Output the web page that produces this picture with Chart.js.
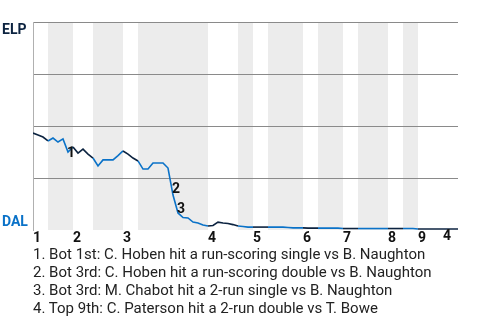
<!DOCTYPE html>
<html>
<head>
<meta charset="utf-8">
<script src="https://cdn.jsdelivr.net/npm/chart.js@4.4.1/dist/chart.umd.min.js"></script>
<style>
  body { margin: 0; background: #fff; }
  #wrap { position: relative; width: 480px; height: 320px; }
  .notes { position: absolute; left: 0; top: 245px; padding-left: 33px; font: 15px Roboto, sans-serif; line-height: 18px; color: #222; white-space: nowrap; }
</style>
</head>
<body>
<div id="wrap">
  <canvas id="myChart" width="480" height="320"></canvas>
  <div class="notes" id="notes"></div>
</div>
<script>
// innings and where each half starts (plate appearance index)
var innings = ["1", "2", "3", "4", "5", "6", "7", "8", "9"];
var topStarts = [0, 8, 18, 35, 44, 54, 62, 71, 77];
var botStarts = [3, 12, 21, 41, 47, 57, 65, 74, null];
var lastPA = 85;

// ELP win probability after each plate appearance
var elpProb = [
  0.466, 0.457, 0.447, 0.428, 0.442, 0.423, 0.438, 0.375, 0.399, 0.370,
  0.389, 0.365, 0.346, 0.308, 0.337, 0.337, 0.337, 0.358, 0.380, 0.365,
  0.346, 0.332, 0.293, 0.293, 0.322, 0.322, 0.322, 0.298, 0.168, 0.082,
  0.060, 0.058, 0.038, 0.034, 0.024, 0.019, 0.022, 0.038, 0.034, 0.031,
  0.026, 0.019, 0.017, 0.014, 0.014, 0.014, 0.014, 0.014, 0.014, 0.014,
  0.014, 0.012, 0.010, 0.010, 0.010, 0.009, 0.009, 0.009, 0.009, 0.009,
  0.009, 0.009, 0.007, 0.007, 0.007, 0.007, 0.007, 0.007, 0.007, 0.007,
  0.007, 0.007, 0.007, 0.007, 0.007, 0.007, 0.007, 0.005, 0.005, 0.005,
  0.005, 0.005, 0.005, 0.005, 0.005, 0.005
];

// key plays
var eventPA = [7, 28, 29, 83];
var eventText = [
  "Bot 1st: C. Hoben hit a run-scoring single vs B. Naughton",
  "Bot 3rd: C. Hoben hit a run-scoring double vs B. Naughton",
  "Bot 3rd: M. Chabot hit a 2-run single vs B. Naughton",
  "Top 9th: C. Paterson hit a 2-run double vs T. Bowe"
];

var NAVY = "#0c2340";
var BLUE = "#0a72c8";
var BAND = "#ececec";
// label nudges in px (dx, dy to the baseline)
var eventNudge = [[3, 5], [3, -2], [3, 0], [-1, 11]];

function isBottomHalf(x) {
  for (var i = 0; i < innings.length; i++) {
    var b = botStarts[i];
    if (b === null) continue;
    var end = i + 1 < topStarts.length ? topStarts[i + 1] : lastPA;
    if (x > b && x < end) return true;
  }
  return false;
}

// shade the bottom half of each inning
var bandsPlugin = {
  id: "bands",
  beforeDraw: function(chart) {
    var ctx = chart.ctx, area = chart.chartArea, xs = chart.scales.x;
    ctx.save();
    ctx.fillStyle = BAND;
    for (var i = 0; i < innings.length; i++) {
      if (botStarts[i] === null) continue;
      var end = i + 1 < topStarts.length ? topStarts[i + 1] : lastPA;
      var x0 = xs.getPixelForValue(botStarts[i]);
      var x1 = xs.getPixelForValue(end);
      ctx.fillRect(x0, area.top, x1 - x0, area.bottom - area.top);
    }
    ctx.restore();
  }
};

// team names and play numbers
var labelsPlugin = {
  id: "labels",
  afterDatasetsDraw: function(chart) {
    var ctx = chart.ctx, area = chart.chartArea;
    var xs = chart.scales.x, ys = chart.scales.y;
    ctx.save();
    ctx.font = "bold 14px Roboto, sans-serif";
    ctx.textBaseline = "alphabetic";
    ctx.textAlign = "left";
    ctx.fillStyle = NAVY;
    ctx.fillText("ELP", 2, area.top + 12);
    ctx.fillStyle = BLUE;
    ctx.fillText("DAL", 2, area.bottom - 4);

    ctx.textAlign = "center";
    ctx.fillStyle = "#111";
    for (var i = 0; i < eventPA.length; i++) {
      var px = xs.getPixelForValue(eventPA[i]);
      var py = ys.getPixelForValue(elpProb[eventPA[i]]);
      ctx.fillText(String(i + 1), px + eventNudge[i][0], py + eventNudge[i][1]);
    }
    ctx.restore();
  }
};

var points = [];
for (var i = 0; i < elpProb.length; i++) {
  points.push({ x: i, y: elpProb[i] });
}

var data = {
  datasets: [{
    data: points,
    borderWidth: 1.6,
    pointRadius: 0,
    tension: 0,
    borderColor: NAVY,
    segment: {
      borderColor: function(c) {
        var mid = (c.p0.parsed.x + c.p1.parsed.x) / 2;
        return isBottomHalf(mid) ? BLUE : NAVY;
      }
    }
  }]
};

var options = {
  responsive: false,
  animation: false,
  layout: { padding: { left: 33, right: 22, top: 22, bottom: 70 } },
  plugins: { legend: { display: false }, tooltip: { enabled: false } },
  scales: {
    x: {
      type: "linear",
      min: 0,
      max: lastPA,
      grid: { display: false },
      border: { display: false },
      afterBuildTicks: function(axis) {
        axis.ticks = topStarts.map(function(v) { return { value: v }; });
      },
      afterFit: function(s) { s.height = 20; },
      ticks: {
        autoSkip: false,
        maxRotation: 0,
        align: "start",
        padding: -8,
        color: "#111",
        font: { family: "Roboto", size: 14, weight: "bold" },
        callback: function(v, idx) { return innings[idx]; }
      }
    },
    y: {
      min: 0,
      max: 1,
      afterFit: function(s) { s.width = 0; },
      ticks: { display: false, stepSize: 0.25 },
      grid: {
        drawTicks: false,
        lineWidth: 1,
        color: function(c) { return c.tick.value === 0 ? "rgba(0,0,0,0)" : "#8a8a8a"; }
      },
      border: { display: true, color: "#b0b0b0", width: 1 }
    }
  }
};

var myChart = new Chart(document.getElementById("myChart"), {
  type: "line",
  data: data,
  options: options,
  plugins: [bandsPlugin, labelsPlugin]
});

// list of key plays under the chart
var notesHTML = "";
for (var i = 0; i < eventText.length; i++) {
  notesHTML += "<div>" + (i + 1) + ". " + eventText[i] + "</div>";
}
document.getElementById("notes").innerHTML = notesHTML;
</script>
</body>
</html>
